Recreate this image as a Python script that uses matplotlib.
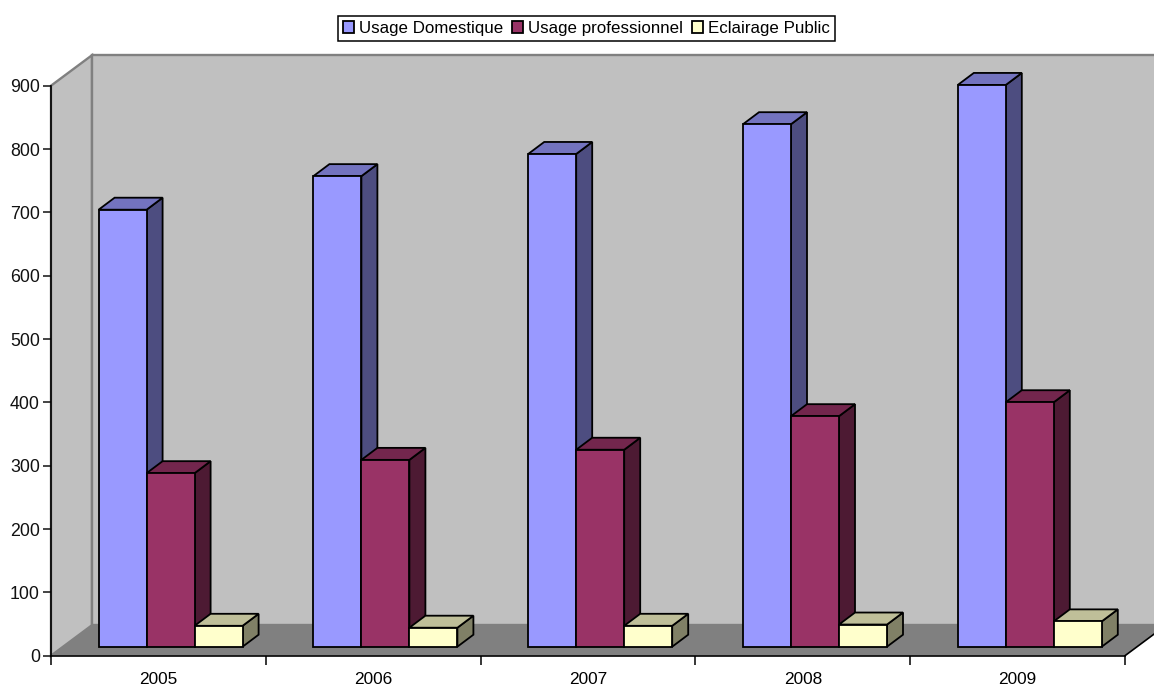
import matplotlib
matplotlib.use("Agg")
import matplotlib.pyplot as plt
from matplotlib.patches import Polygon, Patch

plt.rcParams['font.family'] = ['Liberation Sans', 'DejaVu Sans']

years = ['2005', '2006', '2007', '2008', '2009']
domestique = [690, 743, 778, 825, 887]
professionnel = [274, 295, 311, 364, 386]
eclairage = [33, 30, 33, 35, 40]
series_names = ['Usage Domestique', 'Usage professionnel', 'Eclairage Public']

colors = ['#9999ff', '#993366', '#ffffcc']
top_colors = ['#7373bf', '#73264d', '#bfbf99']
side_colors = ['#4d4d80', '#4d1a33', '#808066']

W, H = 1154, 684
fig = plt.figure(figsize=(W / 100, H / 100), dpi=100)
# axes box = front face of the 3D box, in pixels of the reference
ax = fig.add_axes([51 / W, (H - 655.7) / H, 1074 / W, 570 / H])
ax.set_xlim(0, 5)
ax.set_ylim(0, 900)

px_x = 5 / 1074
px_y = 900 / 570
wall_dx, wall_dy = 41 * px_x, 30.5 * px_y
bar_dx, bar_dy = 16 * px_x, 12 * px_y
bar_w = 48 * px_x
first_off = 47.6 * px_x
base = 9 * px_y


def poly(pts, fc, ec, lw, z):
    ax.add_patch(Polygon(pts, closed=True, facecolor=fc, edgecolor=ec, linewidth=lw,
                         joinstyle='miter', clip_on=False, zorder=z))


# walls and floor
grey = '#808080'
poly([(0, 900), (wall_dx, 900 + wall_dy), (wall_dx, wall_dy), (0, 0)], '#c0c0c0', grey, 1.7, 1)
poly([(wall_dx, wall_dy), (wall_dx, 900 + wall_dy), (5 + wall_dx, 900 + wall_dy), (5 + wall_dx, wall_dy)],
     '#c0c0c0', grey, 1.7, 1)
poly([(0, 0), (wall_dx, wall_dy), (5 + wall_dx, wall_dy), (5, 0)], grey, 'none', 0, 2)
ax.plot([5, 5 + wall_dx], [0, wall_dy], color='black', lw=1.2, clip_on=False, zorder=3)

# bars, left to right so each one covers the side of the previous
z = 4
for i in range(len(years)):
    for s, values in enumerate([domestique, professionnel, eclairage]):
        x0 = i + first_off + s * bar_w
        x1 = x0 + bar_w
        top = base + values[i]
        poly([(x1, base), (x1 + bar_dx, base + bar_dy), (x1 + bar_dx, top + bar_dy), (x1, top)],
             side_colors[s], 'black', 1.3, z)
        poly([(x0, top), (x0 + bar_dx, top + bar_dy), (x1 + bar_dx, top + bar_dy), (x1, top)],
             top_colors[s], 'black', 1.3, z)
        poly([(x0, base), (x0, top), (x1, top), (x1, base)], colors[s], 'black', 1.3, z)
        z += 1

for side in ['top', 'right']:
    ax.spines[side].set_visible(False)
ax.patch.set_visible(False)
for side in ['left', 'bottom']:
    ax.spines[side].set_linewidth(1.2)
    ax.spines[side].set_zorder(3)

ax.set_yticks(range(0, 1000, 100))
ax.tick_params(axis='y', labelsize=12.8, length=6, width=1.1, pad=2, colors='#111111')
ax.set_xticks(range(0, 6))
ax.set_xticklabels([])
ax.tick_params(axis='x', which='major', length=6.5, width=1.1)
ax.set_xticks([i + 0.5 for i in range(5)], minor=True)
ax.set_xticklabels(years, minor=True, fontsize=12.4)
ax.tick_params(axis='x', which='minor', length=0, pad=11.5)

handles = [Patch(facecolor=c, edgecolor='black', linewidth=1.3) for c in colors]
leg = fig.legend(handles, series_names, ncol=3, loc='center',
                 bbox_to_anchor=(586.5 / W, 1 - 28.5 / H), fontsize=12.2,
                 frameon=True, fancybox=False, edgecolor='black', framealpha=1,
                 handlelength=0.65, handleheight=0.65, handletextpad=0.3,
                 columnspacing=0.5, borderpad=0.3, borderaxespad=0)
leg.get_frame().set_linewidth(1.1)

fig.savefig('out.png', dpi=100)
